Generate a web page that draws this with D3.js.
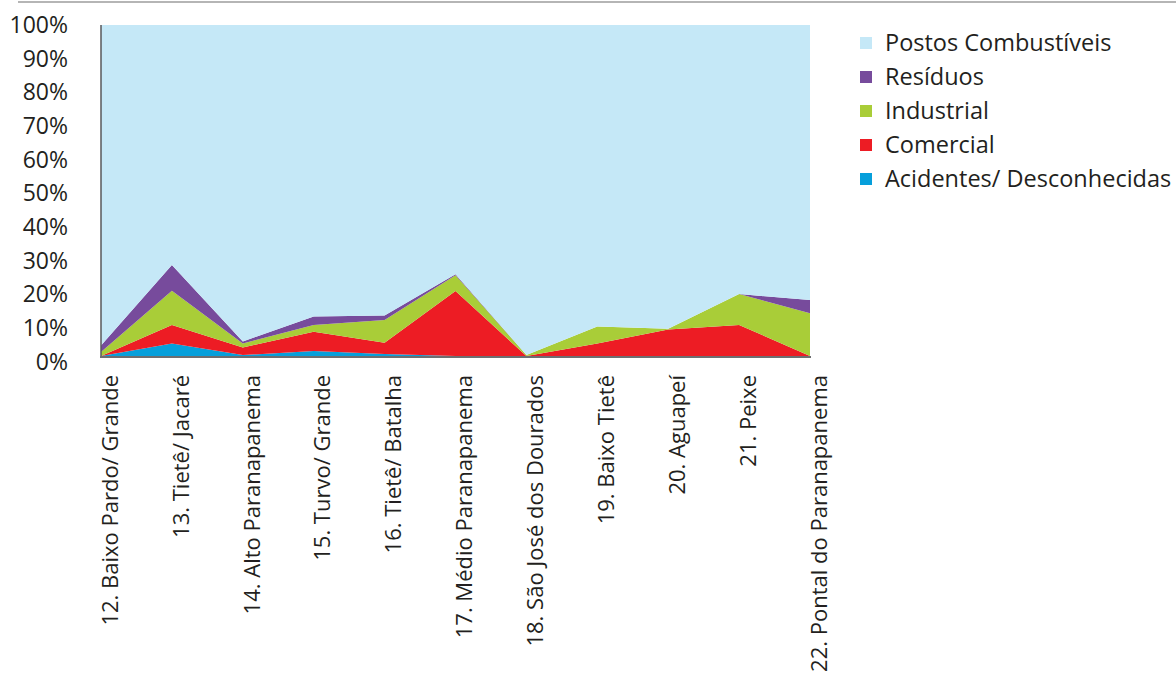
<!DOCTYPE html>
<meta charset="utf-8">
<style>
body { margin: 0; background: #fff; }
svg { display: block; }
text { font-family: "Open Sans", sans-serif; fill: #231f20; }
.tick text { font-size: 23px; }
.xlab { font-size: 22px; }
.legend text { font-size: 23.5px; }
</style>
<svg width="1176" height="685"></svg>
<script src="https://cdnjs.cloudflare.com/ajax/libs/d3/7.8.5/d3.min.js"></script>
<script>

// bacias (UGRHI)
var categories = ["12. Baixo Pardo/ Grande", "13. Tietê/ Jacaré", "14. Alto Paranapanema",
  "15. Turvo/ Grande", "16. Tietê/ Batalha", "17. Médio Paranapanema",
  "18. São José dos Dourados", "19. Baixo Tietê", "20. Aguapeí", "21. Peixe",
  "22. Pontal do Paranapanema"];

// % de cada atividade por bacia
var acidentes = [0, 3.8, 0.3, 1.5, 0.6, 0, 0, 0, 0, 0, 0];
var comercial = [0, 5.6, 2.3, 5.8, 3.4, 19.6, 0, 3.8, 8.0, 9.4, 0];
var industrial = [1.2, 10.3, 1.2, 2.1, 6.9, 4.8, 0.3, 5.1, 0.2, 9.3, 12.9];
var residuos = [2.0, 7.8, 0.6, 2.5, 1.3, 0.3, 0, 0, 0, 0, 4.0];
var postos = categories.map(function(c, i) {
  return 100 - acidentes[i] - comercial[i] - industrial[i] - residuos[i];
});

var yTicks = [0, 10, 20, 30, 40, 50, 60, 70, 80, 90, 100];

var seriesNames = ["Acidentes/ Desconhecidas", "Comercial", "Industrial", "Resíduos", "Postos Combustíveis"];
var colors = ["#069fdb", "#ed1c24", "#a9cd38", "#774b9c", "#c5e8f7"];

var svg = d3.select("svg");

var x = d3.scalePoint().domain(categories).range([101, 810]);
var y = d3.scaleLinear().domain([0, 100]).range([356, 25]);
var yLab = d3.scaleLinear().domain([0, 100]).range([362, 25]);

// linha do topo
svg.append("line")
  .attr("x1", 18).attr("x2", 1176).attr("y1", 2).attr("y2", 2)
  .attr("stroke", "#9d9d9d").attr("stroke-width", 1.5);

var rows = categories.map(function(c, i) {
  return {cat: c, a: acidentes[i], c: comercial[i], ind: industrial[i], r: residuos[i], p: postos[i]};
});
var stack = d3.stack().keys(["a", "c", "ind", "r", "p"]);
var layers = stack(rows);

var area = d3.area()
  .x(function(d) { return x(d.data.cat); })
  .y0(function(d) { return y(d[0]); })
  .y1(function(d) { return y(d[1]); });

svg.append("g").selectAll("path")
  .data(layers)
  .enter().append("path")
  .attr("fill", function(d, i) { return colors[i]; })
  .attr("d", area);

// eixo y
var yAxis = svg.append("g")
  .attr("transform", "translate(68,0)")
  .call(d3.axisLeft(yLab).tickValues(yTicks).tickSize(0).tickPadding(0)
    .tickFormat(function(d) { return d + "%"; }));
yAxis.select(".domain").remove();
yAxis.selectAll("text").attr("fill", "#231f20");

svg.append("line")
  .attr("x1", 101).attr("x2", 101).attr("y1", y(100)).attr("y2", y(0))
  .attr("stroke", "#58595b").attr("stroke-width", 1.5);
svg.append("line")
  .attr("x1", 100).attr("x2", 811).attr("y1", y(0) + 1).attr("y2", y(0) + 1)
  .attr("stroke", "#6d6e71").attr("stroke-width", 2);

// rótulos das bacias
svg.append("g").selectAll("text")
  .data(categories)
  .enter().append("text")
  .attr("class", "xlab")
  .attr("transform", function(d) { return "translate(" + (x(d) + 9) + ",375) rotate(-90)"; })
  .attr("text-anchor", "end")
  .attr("dy", "0.35em")
  .text(function(d) { return d; });

// legenda
var legendOrder = [4, 3, 2, 1, 0];
var legend = svg.append("g").attr("class", "legend")
  .selectAll("g")
  .data(legendOrder)
  .enter().append("g")
  .attr("transform", function(d, i) { return "translate(860," + (43 + i * 34) + ")"; });
legend.append("rect")
  .attr("x", 0).attr("y", -6).attr("width", 12).attr("height", 12)
  .attr("fill", function(d) { return colors[d]; });
legend.append("text")
  .attr("x", 25).attr("dy", "0.35em")
  .text(function(d) { return seriesNames[d]; });

svg.append("text")
  .attr("x", 995).attr("y", 699)
  .attr("font-size", 20).attr("font-style", "italic")
  .style("fill", "#777")
  .text("Continua");
</script>
